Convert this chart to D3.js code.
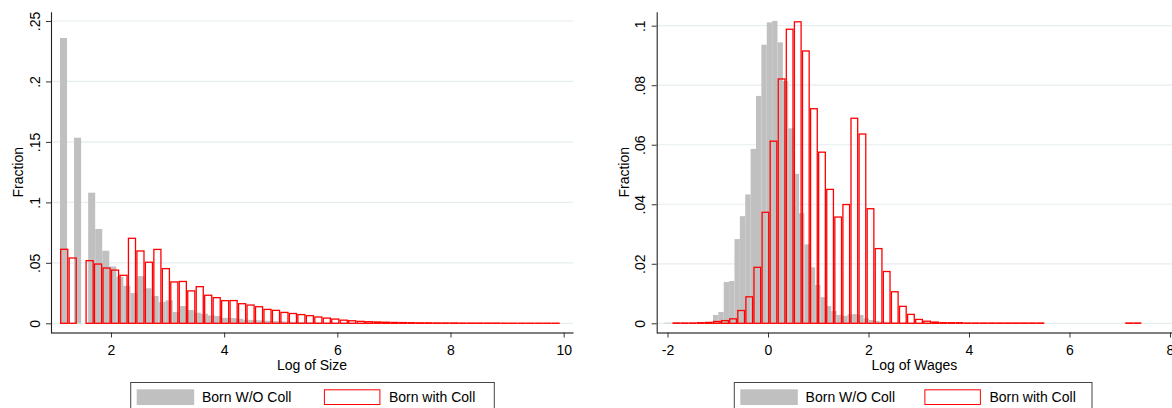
<!DOCTYPE html>
<html>
<head>
<meta charset="utf-8">
<script src="https://cdn.jsdelivr.net/npm/d3@7/dist/d3.min.js"></script>
<style>
body { margin: 0; background: #fff; }
svg text { font-family: "Liberation Sans", Arial, Helvetica, sans-serif; font-size: 14px; fill: #000; }
</style>
</head>
<body>
<div id="chart"></div>
<script>
// left panel: log of size, histogram bins (start, width, fraction per bin)
const sizeGrayStart = 1.0986, sizeGrayWidth = 0.1245;
const sizeGray = [0.236, 0, 0.1535, 0, 0.108, 0.078, 0.060, 0.047, 0.0386, 0.031,
  0.025, 0.039, 0.029, 0.0226, 0.0177, 0.019, 0.0094, 0.0143, 0.011, 0.0088,
  0.0079, 0.0065, 0.006, 0.0045, 0.0044, 0.0038, 0.0029, 0.0028, 0.0024, 0.0021,
  0.0019, 0.0016, 0.0014, 0.0012, 0.0011, 0.0009, 0.0008, 0.0007, 0.0006, 0.0005,
  0.0005, 0.0004, 0.0004, 0.0003, 0.0003, 0.0003, 0.0002, 0.0002, 0.0002, 0.0002,
  0.0001, 0.0001, 0.0001, 0.0001, 0.0001, 0.0001, 0.0001, 0.0001, 0.0001, 0.0001];
const sizeRedStart = 1.0986, sizeRedWidth = 0.1497;
const sizeRed = [0.0612, 0.054, 0, 0.0518, 0.049, 0.0457, 0.044, 0.0397, 0.0703, 0.0598,
  0.0505, 0.0611, 0.0452, 0.0342, 0.0346, 0.0268, 0.0303, 0.0232, 0.0212, 0.0187,
  0.0188, 0.0162, 0.0151, 0.0137, 0.0115, 0.0107, 0.0090, 0.0081, 0.0072, 0.0063,
  0.0052, 0.0043, 0.0035, 0.0026, 0.0021, 0.0016, 0.0013, 0.0011, 0.0009, 0.0007,
  0.0006, 0.0005, 0.0004, 0.0004, 0.0003, 0.0003, 0.0003, 0.0002, 0.0002, 0.0002,
  0.0002, 0.0002, 0.0001, 0.0001, 0.0001, 0.0001, 0.0001, 0.0001, 0.0001];
const sizeTicksX = [2, 4, 6, 8, 10];
const sizeTicksY = [0, 0.05, 0.1, 0.15, 0.2, 0.25];

// right panel: log of wages
const wageGrayStart = -2.058, wageGrayWidth = 0.107;
const wageGray = [0.0002, 0.0002, 0.0002, 0.0002, 0.0002, 0.0002, 0.0002, 0.0002, 0.0002, 0.0028,
  0.0038, 0.0139, 0.0142, 0.0283, 0.036, 0.0433, 0.0586, 0.0764, 0.0936, 0.1011,
  0.1016, 0.0944, 0.0814, 0.0655, 0.0502, 0.037, 0.0265, 0.0188, 0.0129, 0.0088,
  0.0058, 0.0041, 0.0028, 0.0025, 0.003, 0.0031, 0.0028, 0.0017, 0.0011, 0.0008,
  0.0006, 0.0005, 0.0003, 0.0003, 0.0003, 0.0002, 0.0002, 0.0002, 0.0002, 0.0001,
  0.0001, 0.0001, 0.0001];
const wageRedStart = -1.902, wageRedWidth = 0.1609;
const wageRed = [0.0001, 0.0001, 0.0001, 0.0002, 0.0003, 0.0006, 0.0009, 0.0015, 0.0043, 0.0089,
  0.0188, 0.0373, 0.0612, 0.0821, 0.0988, 0.1013, 0.0915, 0.0721, 0.0575, 0.045,
  0.0357, 0.0399, 0.0689, 0.0636, 0.0385, 0.0251, 0.0174, 0.0106, 0.0057, 0.003,
  0.0013, 0.0007, 0.0004, 0.0002, 0.0002, 0.0002, 0.0001, 0.0001, 0.0001, 0.0001,
  0.0001, 0.0001, 0.0001, 0.0001, 0.0001, 0.0001, 0, 0, 0, 0,
  0, 0, 0, 0, 0, 0, 0.0001, 0.0001];
const wageTicksX = [-2, 0, 2, 4, 6, 8];
const wageTicksY = [0, 0.02, 0.04, 0.06, 0.08, 0.1];

const legendLabels = ["Born W/O Coll", "Born with Coll"];

const W = 1172, H = 408;
const svg = d3.select("#chart").append("svg")
  .attr("width", W).attr("height", H);

function stataNum(v) {
  if (v === 0) return "0";
  return String(+v.toFixed(3)).replace(/^(-?)0\./, "$1.");
}

function bins(start, width, vals) {
  return vals.map(function(v, i) { return { x0: start + i * width, x1: start + (i + 1) * width, v: v }; })
    .filter(function(d) { return d.v > 0; });
}

function drawPanel(p) {
  const x = d3.scaleLinear().domain(p.xDomain).range(p.xRange);
  const y = d3.scaleLinear().domain(p.yDomain).range([333, 11.7]);
  const g = svg.append("g");

  // grid
  g.selectAll("line.grid").data(p.ticksY).enter().append("line")
    .attr("x1", p.xRange[0] + 1).attr("x2", p.xRange[1])
    .attr("y1", function(d) { return y(d); }).attr("y2", function(d) { return y(d); })
    .attr("stroke", "#e6eeef").attr("stroke-width", 1.2);

  // gray bars
  g.selectAll("rect.gray").data(bins(p.grayStart, p.grayWidth, p.gray)).enter().append("rect")
    .attr("x", function(d) { return x(d.x0); })
    .attr("width", function(d) { return x(d.x1) - x(d.x0); })
    .attr("y", function(d) { return y(d.v); })
    .attr("height", function(d) { return y(0) - y(d.v); })
    .attr("fill", "#c0c0c0");

  // red outline bars
  g.selectAll("rect.red").data(bins(p.redStart, p.redWidth, p.red)).enter().append("rect")
    .attr("x", function(d) { return x(d.x0) + 0.7; })
    .attr("width", function(d) { return x(d.x1) - x(d.x0) - 1.4; })
    .attr("y", function(d) { return y(d.v); })
    .attr("height", function(d) { return y(0) - y(d.v); })
    .attr("fill", "none")
    .attr("stroke", "#ff0000").attr("stroke-width", 1.3);

  // x axis
  const xa = g.append("g").attr("transform", "translate(0,332.5)")
    .call(d3.axisBottom(x).tickValues(p.ticksX).tickSize(5).tickSizeOuter(0).tickFormat(stataNum));
  xa.select(".domain").attr("stroke", "#000").attr("stroke-width", 1.1);
  xa.selectAll(".tick line").attr("stroke", "#333");
  xa.selectAll(".tick text").attr("y", 22.5).attr("dy", null).style("font-size", "14px");

  // y axis
  const ya = g.append("g").attr("transform", "translate(" + p.xRange[0] + ",0)")
    .call(d3.axisLeft(y).tickValues(p.ticksY).tickSize(5).tickSizeOuter(0).tickFormat(stataNum));
  ya.select(".domain").attr("stroke", "#222").attr("stroke-width", 1.1);
  ya.selectAll(".tick line").attr("stroke", "#333");
  ya.selectAll(".tick text")
    .attr("x", null).attr("dy", null)
    .attr("text-anchor", "middle")
    .attr("transform", "translate(-11.5,0) rotate(-90)")
    .style("font-size", "14px");

  // titles
  const cx = (p.xRange[0] + p.xRange[1]) / 2;
  g.append("text").attr("x", cx).attr("y", 370).attr("text-anchor", "middle").text(p.xTitle);
  g.append("text").attr("text-anchor", "middle")
    .attr("transform", "translate(" + (p.xRange[0] - 27.8) + ",172.3) rotate(-90)")
    .text("Fraction");

  // legend
  const lx = p.legendX;
  const lg = g.append("g");
  lg.append("rect").attr("x", lx).attr("y", 382.5).attr("width", p.legendW).attr("height", 40)
    .attr("fill", "#fff").attr("stroke", "#444").attr("stroke-width", 1);
  lg.append("rect").attr("x", lx + 6).attr("y", 389.3).attr("width", 57.5).attr("height", 15.7)
    .attr("fill", "#c0c0c0");
  lg.append("text").attr("x", lx + 71.3).attr("y", 402.3).text(legendLabels[0]);
  lg.append("rect").attr("x", lx + p.legendW * 0.53 + 1).attr("y", 389.8).attr("width", 55.5).attr("height", 14.7)
    .attr("fill", "#fff").attr("stroke", "#ff0000").attr("stroke-width", 1);
  lg.append("text").attr("x", lx + p.legendW * 0.53 + 65.5).attr("y", 402.3).text(legendLabels[1]);
}

drawPanel({
  xDomain: [0.94, 10.165], xRange: [51, 573], yDomain: [-0.00802, 0.25768],
  ticksX: sizeTicksX, ticksY: sizeTicksY,
  grayStart: sizeGrayStart, grayWidth: sizeGrayWidth, gray: sizeGray,
  redStart: sizeRedStart, redWidth: sizeRedWidth, red: sizeRed,
  xTitle: "Log of Size", legendX: 130.7, legendW: 363.6
});

drawPanel({
  xDomain: [-2.215, 8.04], xRange: [656.7, 1172], yDomain: [-0.00326, 0.1047],
  ticksX: wageTicksX, ticksY: wageTicksY,
  grayStart: wageGrayStart, grayWidth: wageGrayWidth, gray: wageGray,
  redStart: wageRedStart, redWidth: wageRedWidth, red: wageRed,
  xTitle: "Log of Wages", legendX: 734.3, legendW: 357.7
});
</script>
</body>
</html>
